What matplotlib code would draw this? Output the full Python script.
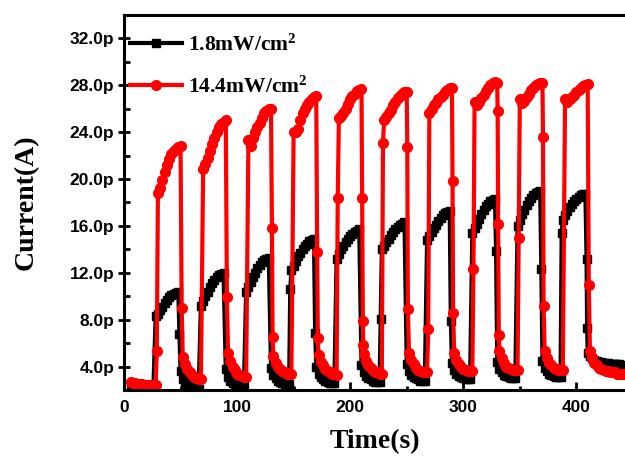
import matplotlib.pyplot as plt
import numpy as np
from matplotlib.ticker import MultipleLocator, FuncFormatter

# light on at these times (s), 20 s on / 20 s off, sampled every 2 s
red_rise = [30, 70, 110, 150, 190, 230, 270, 310, 350, 390]
black_rise = [28, 68, 108, 148, 188, 228, 268, 308, 348, 388]

# dark current before the first pulse (pA)
red_base_t = [6, 8, 10, 12, 14, 16, 18, 20, 22, 24, 26, 28]
red_base = [2.7, 2.6, 2.6, 2.5, 2.5, 2.5, 2.4, 2.4, 2.4, 2.4, 2.4, 2.4]
black_base_t = [6, 8, 10, 12, 14, 16, 18, 20, 22, 24, 26]
black_base = [2.5, 2.5, 2.4, 2.4, 2.4, 2.4, 2.3, 2.3, 2.3, 2.3, 2.3]

# 14.4 mW/cm2 - light on (pA)
red_on = [
    [18.8, 19.2, 19.9, 20.6, 21.2, 21.7, 22.1, 22.4, 22.6, 22.7, 22.8],
    [20.9, 21.3, 21.8, 22.4, 23.0, 23.5, 24.0, 24.4, 24.7, 24.9, 25.0],
    [23.3, 22.8, 23.5, 24.0, 24.4, 24.8, 25.2, 25.6, 25.8, 26.0, 26.0],
    [24.0, 24.0, 24.3, 25.0, 25.6, 26.0, 26.3, 26.6, 26.8, 27.0, 27.1],
    [25.2, 25.4, 25.6, 26.0, 26.4, 26.8, 27.1, 27.3, 27.5, 27.6, 27.7],
    [25.0, 25.3, 25.6, 25.9, 26.3, 26.6, 26.9, 27.1, 27.3, 27.4, 27.4],
    [25.6, 26.0, 26.3, 26.5, 26.8, 27.0, 27.2, 27.4, 27.6, 27.8, 27.8],
    [26.6, 26.3, 26.6, 26.9, 27.2, 27.5, 27.8, 28.0, 28.2, 28.3, 28.2],
    [26.8, 26.5, 26.7, 27.0, 27.3, 27.6, 27.8, 28.0, 28.1, 28.2, 28.2],
    [26.8, 26.6, 26.8, 27.0, 27.2, 27.4, 27.6, 27.8, 27.9, 28.0, 28.1],
]
# 14.4 mW/cm2 - light off (pA)
red_off = [
    [4.8, 4.2, 3.8, 3.5, 3.3, 3.1, 3.0, 2.9, 2.9],
    [5.2, 4.5, 4.0, 3.7, 3.4, 3.3, 3.2, 3.1, 3.1],
    [4.9, 4.3, 4.0, 3.8, 3.6, 3.5, 3.4, 3.4, 3.4],
    [5.0, 4.4, 4.1, 3.8, 3.6, 3.5, 3.4, 3.4, 3.3],
    [5.1, 4.5, 4.1, 3.9, 3.7, 3.5, 3.5, 3.4, 3.4],
    [5.2, 4.6, 4.2, 3.9, 3.7, 3.6, 3.5, 3.5, 3.5],
    [5.2, 4.6, 4.2, 4.0, 3.8, 3.7, 3.6, 3.6, 3.6],
    [5.3, 4.7, 4.3, 4.0, 3.9, 3.8, 3.7, 3.7, 3.7],
    [5.3, 4.7, 4.3, 4.1, 3.9, 3.8, 3.7, 3.7, 3.7],
    [5.3, 4.7, 4.3, 4.1, 3.9, 3.8, 3.7, 3.6, 3.6, 3.5, 3.5, 3.5, 3.4, 3.4, 3.4, 3.4],
]
# points caught on the switching edges
red_edge_t = [29, 51, 91, 130.8, 131.4, 170.8, 171.4, 189, 210.6, 211.2, 211.6,
              229, 250.5, 251, 269, 290.5, 291, 309, 330.4, 330.8, 331.4,
              349, 370.5, 371, 411]
red_edge = [5.3, 9.0, 9.9, 15.8, 6.5, 13.8, 6.4, 18.4, 18.4, 7.9, 5.8,
            23.1, 22.7, 8.9, 7.2, 19.8, 8.6, 12.3, 25.8, 16.2, 6.7,
            15.0, 23.6, 9.2, 11.0]

# 1.8 mW/cm2 - light on (pA)
black_on = [
    [8.3, 8.5, 8.8, 9.1, 9.4, 9.7, 9.9, 10.1, 10.2, 10.3, 10.4],
    [9.2, 9.6, 10.0, 10.4, 10.8, 11.1, 11.4, 11.6, 11.8, 11.9, 12.0],
    [10.4, 10.8, 11.2, 11.6, 12.0, 12.4, 12.7, 12.9, 13.1, 13.2, 13.3],
    [12.2, 12.6, 13.0, 13.4, 13.7, 14.0, 14.3, 14.5, 14.7, 14.8, 14.9],
    [13.2, 13.6, 14.0, 14.3, 14.6, 14.9, 15.1, 15.3, 15.5, 15.6, 15.7],
    [14.0, 14.3, 14.6, 14.9, 15.2, 15.5, 15.7, 15.9, 16.1, 16.2, 16.3],
    [14.8, 15.1, 15.5, 15.8, 16.1, 16.4, 16.7, 16.9, 17.1, 17.2, 17.3],
    [15.4, 15.8, 16.2, 16.6, 17.0, 17.4, 17.7, 17.9, 18.1, 18.2, 18.3],
    [16.0, 16.5, 17.0, 17.4, 17.8, 18.1, 18.4, 18.6, 18.8, 18.9, 19.0],
    [16.5, 16.9, 17.3, 17.6, 17.9, 18.1, 18.3, 18.5, 18.6, 18.7, 18.7],
]
# 1.8 mW/cm2 - light off (pA)
black_off = [
    [3.6, 2.9, 2.6, 2.4, 2.3, 2.2, 2.2, 2.1, 2.1],
    [3.8, 3.1, 2.8, 2.6, 2.5, 2.4, 2.3, 2.3, 2.3],
    [3.9, 3.3, 3.0, 2.8, 2.7, 2.6, 2.5, 2.5, 2.5],
    [4.0, 3.4, 3.1, 2.9, 2.8, 2.7, 2.6, 2.6, 2.6],
    [4.1, 3.5, 3.2, 3.0, 2.9, 2.8, 2.7, 2.7, 2.7],
    [4.2, 3.6, 3.3, 3.1, 3.0, 2.9, 2.8, 2.8, 2.8],
    [4.3, 3.7, 3.4, 3.2, 3.1, 3.0, 2.9, 2.9, 2.9],
    [4.4, 3.8, 3.5, 3.3, 3.2, 3.1, 3.0, 3.0, 3.0],
    [4.5, 3.9, 3.6, 3.4, 3.3, 3.2, 3.1, 3.1, 3.1],
    [5.2, 4.9, 4.7, 4.6, 4.5, 4.4, 4.4, 4.3, 4.3, 4.3, 4.2, 4.2, 4.2, 4.2, 4.2, 4.1],
]
black_edge_t = [49, 147, 169, 227, 289, 329, 369, 387, 409, 409.5]
black_edge = [6.8, 10.6, 6.9, 8.1, 7.9, 13.9, 12.3, 15.4, 13.2, 7.3]


def build(base_t, base_y, rises, on, off, edge_t, edge_y):
    t = list(base_t)
    y = list(base_y)
    for tr, a, b in zip(rises, on, off):
        t += [tr + 2 * i for i in range(len(a))]
        y += a
        t += [tr + 22 + 2 * j for j in range(len(b))]
        y += b
    t += edge_t
    y += edge_y
    order = np.argsort(t)
    return np.array(t)[order], np.array(y)[order]


tb, yb = build(black_base_t, black_base, black_rise, black_on, black_off, black_edge_t, black_edge)
tr_, yr = build(red_base_t, red_base, red_rise, red_on, red_off, red_edge_t, red_edge)

plt.rcParams['mathtext.fontset'] = 'custom'
plt.rcParams['mathtext.rm'] = 'Liberation Serif:bold'
plt.rcParams['mathtext.it'] = 'Liberation Serif:bold'
plt.rcParams['mathtext.bf'] = 'Liberation Serif:bold'

fig = plt.figure(figsize=(6.25, 4.61), dpi=100)
ax = fig.add_axes([0.1984, 0.154, 0.8016, 0.8135])

ax.plot(tb, yb, color='black', lw=3, marker='s', ms=5.5, label='1.8mW/cm$^2$')
ax.plot(tr_, yr, color='#ff0000', lw=3, marker='o', ms=7, label='14.4mW/cm$^2$')

ax.set_xlim(0, 443)
ax.set_ylim(2, 34)
ax.xaxis.set_major_locator(MultipleLocator(100))
ax.xaxis.set_minor_locator(MultipleLocator(50))
ax.yaxis.set_major_locator(MultipleLocator(4))
ax.yaxis.set_minor_locator(MultipleLocator(2))
ax.yaxis.set_major_formatter(FuncFormatter(lambda v, p: '%.1fp' % v))

ax.spines['right'].set_visible(False)
for s in ['left', 'bottom', 'top']:
    ax.spines[s].set_linewidth(2.2)
ax.tick_params(axis='x', which='major', direction='in', length=6, width=2, pad=7)
ax.tick_params(axis='x', which='minor', direction='in', length=3, width=2)
ax.tick_params(axis='y', which='major', direction='inout', length=8, width=2, pad=3)
ax.tick_params(axis='y', which='minor', direction='in', length=4, width=2)
ax.tick_params(right=False, top=False, which='both')
for lab in ax.get_xticklabels() + ax.get_yticklabels():
    lab.set_fontfamily('Liberation Sans')
    lab.set_fontweight('bold')
    lab.set_fontsize(12.5)

ax.set_xlabel('Time(s)', fontfamily='Liberation Serif', fontweight='bold', fontsize=20, labelpad=10)
ax.set_ylabel('Current(A)', fontfamily='Liberation Serif', fontweight='bold', fontsize=20, labelpad=22)

ax.legend(loc='upper left', bbox_to_anchor=(0.0, 0.965), frameon=False,
          handlelength=2.4, handletextpad=0.25, labelspacing=0.95,
          borderaxespad=0, borderpad=0.3,
          prop={'family': 'Liberation Serif', 'weight': 'bold', 'size': 15.5})

fig.savefig('out.png', dpi=100)
